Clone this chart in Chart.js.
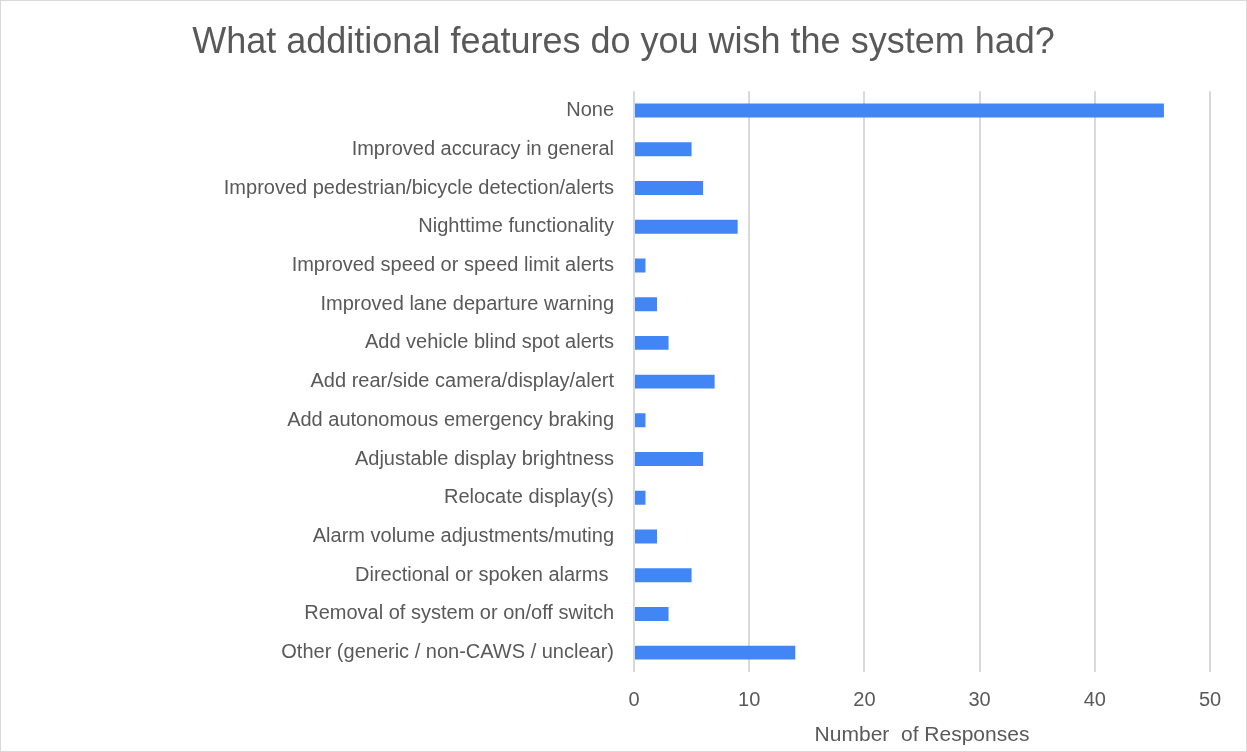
<!DOCTYPE html>
<html>
<head>
<meta charset="utf-8">
<title>Additional features</title>
<script src="https://cdn.jsdelivr.net/npm/chart.js@4.4.1/dist/chart.umd.min.js"></script>
<style>
  html, body { margin: 0; padding: 0; background: #fff; }
  #box {
    width: 1247px; height: 752px; box-sizing: border-box;
    border: 1px solid #d9d9d9; background: #fff;
  }
  #chart { display: block; }
</style>
</head>
<body>
<div id="box"><canvas id="chart" width="1245" height="750"></canvas></div>
<script>
const features = [
  "None",
  "Improved accuracy in general",
  "Improved pedestrian/bicycle detection/alerts",
  "Nighttime functionality",
  "Improved speed or speed limit alerts",
  "Improved lane departure warning",
  "Add vehicle blind spot alerts",
  "Add rear/side camera/display/alert",
  "Add autonomous emergency braking",
  "Adjustable display brightness",
  "Relocate display(s)",
  "Alarm volume adjustments/muting",
  "Directional or spoken alarms ",
  "Removal of system or on/off switch",
  "Other (generic / non-CAWS / unclear)"
];
const responses = [46, 5, 6, 9, 1, 2, 3, 7, 1, 6, 1, 2, 5, 3, 14];
const axisMin = 0;
const axisMax = 50;
const axisStep = 10;

const textColor = "#595959";
const gridColor = "#d9d9d9";
const barColor = "#4285f4";
const fontFamily = "Liberation Sans, Arial, sans-serif";

// left edge of the plot area (canvas px), labels sit to its left
const plotLeft = 633;
const sidePad = 36;

new Chart(document.getElementById("chart"), {
  type: "bar",
  data: {
    labels: features,
    datasets: [{
      data: responses,
      backgroundColor: barColor,
      borderWidth: 0,
      barPercentage: 0.45,
      categoryPercentage: 0.8
    }]
  },
  options: {
    indexAxis: "y",
    responsive: false,
    animation: false,
    layout: { padding: { left: sidePad, right: sidePad, top: 4, bottom: 9 } },
    plugins: {
      legend: { display: false },
      tooltip: { enabled: false },
      title: {
        display: true,
        text: "What additional features do you wish the system had?",
        color: textColor,
        font: { family: fontFamily, size: 36, weight: "normal" },
        padding: { top: 16, bottom: 27 }
      }
    },
    scales: {
      x: {
        min: axisMin,
        max: axisMax,
        ticks: {
          stepSize: axisStep,
          color: textColor,
          padding: 18,
          font: { family: fontFamily, size: 20, lineHeight: 1.0 }
        },
        grid: { color: gridColor, lineWidth: 2, drawTicks: false },
        border: { display: false },
        title: {
          display: true,
          text: "Number  of Responses",
          color: textColor,
          font: { family: fontFamily, size: 21, lineHeight: 0.667 },
          padding: { top: 0, bottom: 0 }
        }
      },
      y: {
        afterFit: (axis) => { axis.width = plotLeft - sidePad; },
        ticks: {
          color: textColor,
          padding: 20,
          autoSkip: false,
          font: { family: fontFamily, size: 20 }
        },
        grid: { display: false, drawTicks: false },
        border: { display: false }
      }
    }
  }
});
</script>
</body>
</html>
